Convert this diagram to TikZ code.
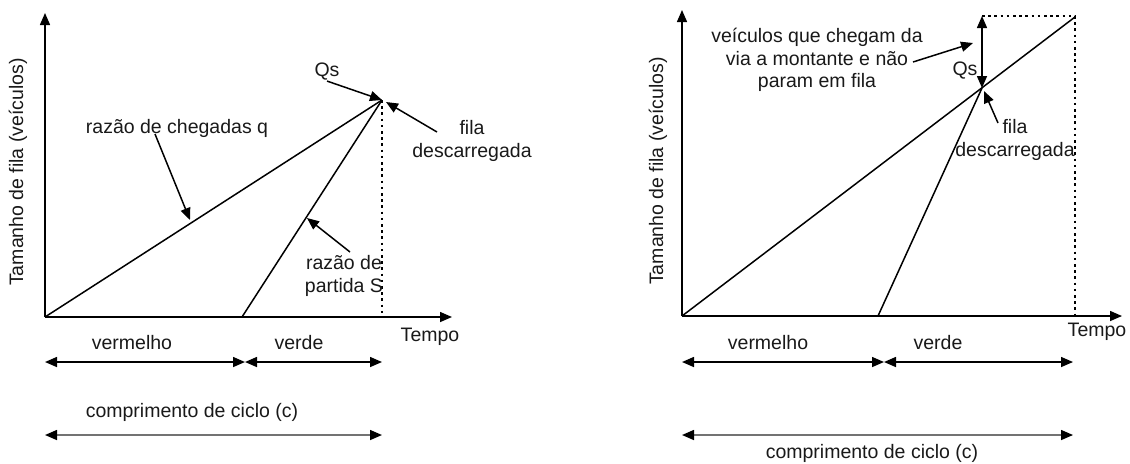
\documentclass[tikz,border=0pt]{standalone}
\usepackage{fontspec}
\setmainfont{Liberation Sans}
\usetikzlibrary{arrows.meta}
\begin{document}
\begin{tikzpicture}[x=0.5pt,y=-0.5pt,
 lbl/.style={font=\fontsize{9.75pt}{11.3pt}\selectfont, inner sep=0pt, align=center, text=black!90},
 ln/.style={line width=0.75pt},
 arr/.style={ln,-{Triangle[length=6pt,width=5pt]}},
 darr/.style={ln,{Triangle[length=6pt,width=5pt]}-{Triangle[length=6pt,width=5pt]}},
 carr/.style={ln,black!55,{Triangle[length=6pt,width=5pt,color=black]}-{Triangle[length=6pt,width=5pt,color=black]}},
 dots/.style={line width=1.4pt, dash pattern=on 1.3pt off 1.8pt},
]
\useasboundingbox (0,0) rectangle (1130,463);

% ---------------- left diagram ----------------
\coordinate (O1) at (45,317);
\coordinate (Y1) at (45,13);
\coordinate (X1) at (452,317);
\coordinate (P1) at (382,100);
\coordinate (G1) at (242,317);
\coordinate (D1) at (382,317);
\draw[arr] (O1) -- (Y1);
\draw[arr] (O1) -- (X1);
\draw[ln] (O1) -- (P1);
\draw[ln] (G1) -- (P1);
\draw[dots] (P1) -- (D1);

\node[lbl, rotate=90] (ylab1) at (18,172) {Tamanho de fila (veículos)};
\node[lbl] (qs1) at (327,72) {Qs};
\draw[arr] (qs1.south) -- (P1);
\node[lbl] (fila1) at (472,141) {fila\\descarregada};
\coordinate (fa1) at (437,132);
\coordinate (fb1) at (386,102);
\draw[arr] (fa1) -- (fb1);
\node[lbl] (rq1) at (177,128) {razão de chegadas q};
\coordinate (ra1) at (155,134);
\coordinate (rb1) at (190,220);
\draw[arr] (ra1) -- (rb1);
\node[lbl] (rs1) at (344,276) {razão de\\partida S};
\coordinate (sa1) at (350,252);
\coordinate (sb1) at (307,218);
\draw[arr] (sa1) -- (sb1);

\node[lbl] (tempo1) at (430,337) {Tempo};
\node[lbl] (verm1) at (132,343) {vermelho};
\node[lbl] (verd1) at (299,343) {verde};
\coordinate (a1) at (45,362);
\coordinate (b1) at (245,362);
\coordinate (c1) at (382,362);
\draw[darr] (a1) -- (b1);
\draw[darr] (b1) -- (c1);
\node[lbl] (ciclo1) at (192,412) {comprimento de ciclo (c)};
\coordinate (ca1) at (45,435);
\coordinate (cb1) at (382,435);
\draw[carr] (ca1) -- (cb1);

% ---------------- right diagram ----------------
\coordinate (O2) at (682,316);
\coordinate (Y2) at (682,10);
\coordinate (X2) at (1122,316);
\coordinate (P2) at (1075,17);
\coordinate (I2) at (982,88);
\coordinate (G2) at (878,316);
\coordinate (T2) at (982,16);
\coordinate (TR2) at (1075,16);
\coordinate (D2) at (1075,316);
\draw[arr] (O2) -- (Y2);
\draw[arr] (O2) -- (X2);
\draw[ln] (O2) -- (P2);
\draw[ln] (G2) -- (I2);
\draw[dots] (T2) -- (TR2) -- (D2);
\draw[darr] (T2) -- (I2);

\node[lbl, rotate=90] (ylab2) at (658,171) {Tamanho de fila (veículos)};
\node[lbl] (qs2) at (965,71) {Qs};
\node[lbl] (veic2) at (817,60) {veículos que chegam da\\via a montante e não\\param em fila};
\coordinate (va2) at (913,62);
\coordinate (vb2) at (973,43);
\draw[arr] (va2) -- (vb2);
\node[lbl] (fila2) at (1015,140) {fila\\descarregada};
\coordinate (fa2) at (998,123);
\coordinate (fb2) at (984,91);
\draw[arr] (fa2) -- (fb2);

\node[lbl] (tempo2) at (1097,332) {Tempo};
\node[lbl] (verm2) at (768,343) {vermelho};
\node[lbl] (verd2) at (938,343) {verde};
\coordinate (a2) at (682,362);
\coordinate (b2) at (884,362);
\coordinate (c2) at (1073,362);
\draw[darr] (a2) -- (b2);
\draw[darr] (b2) -- (c2);
\coordinate (ca2) at (682,435);
\coordinate (cb2) at (1073,435);
\draw[carr] (ca2) -- (cb2);
\node[lbl] (ciclo2) at (872,453) {comprimento de ciclo (c)};
\end{tikzpicture}
\end{document}
